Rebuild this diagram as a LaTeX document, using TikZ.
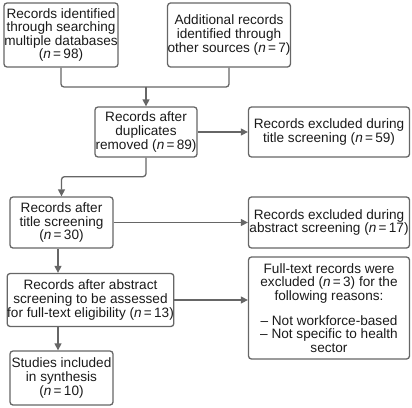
\documentclass[tikz,border=0pt]{standalone}
\usepackage{fontspec}
\setmainfont{Liberation Sans}
\usetikzlibrary{arrows.meta}
\definecolor{ln}{HTML}{666666}
\definecolor{tx}{HTML}{1A1A1A}
\newcommand{\nn}[1]{(\textit{n}\,=\,#1)}
\begin{document}
\begin{tikzpicture}[x=1pt,y=-1pt,
  box/.style={draw=ln, line width=1.3pt, rounded corners=3pt, align=center,
    inner sep=0pt, text=tx, font=\fontsize{13.6}{13.6}\selectfont},
  link/.style={draw=ln, line width=1.3pt, rounded corners=3pt},
  conn/.style={link, -{Triangle[length=7pt,width=7pt]}}]
\useasboundingbox (0,0) rectangle (412,407);
\node[box, minimum width=114pt, minimum height=64pt] (b1) at (61,35)
  {Records identified\\through searching\\multiple databases\\\nn{98}};
\node[box, minimum width=116pt, minimum height=64pt] (b2) at (229,35)
  {Additional records\\identified through\\other sources \nn{7}};
\node[box, minimum width=102pt, minimum height=50pt] (b3) at (146,132)
  {Records after\\duplicates\\removed \nn{89}};
\node[box, minimum width=161pt, minimum height=50pt] (b4) at (329,132)
  {Records excluded during\\title screening \nn{59}};
\node[box, minimum width=103pt, minimum height=51pt] (b5) at (61.5,222.5)
  {Records after\\title screening\\\nn{30}};
\node[box, minimum width=161pt, minimum height=51pt] (b6) at (329,222.5)
  {Records excluded during\\abstract screening \nn{17}};
\node[box, minimum width=161pt, minimum height=53pt] (b7) at (90.5,300)
  {Records after abstract\\screening to be assessed\\for full-text eligibility \nn{13}};
\node[box, minimum width=161pt, minimum height=102pt] (b8) at (329,308)
  {Full-text records were\\excluded \nn{3} for the\\following reasons:\\[11pt]
   -- Not workforce-based\\-- Not specific to health\\sector};
\node[box, minimum width=103pt, minimum height=54pt] (b9) at (61.5,378)
  {Studies included\\in synthesis\\\nn{10}};
\coordinate (j) at (146,87);
\coordinate (v) at (58,0);
\draw[link] (b1.south) |- (j);
\draw[link] (b2.south) |- (j);
\draw[conn] (j) -- (b3.north);
\draw[conn] (b3.east) -- (b4.west);
\draw[conn] (b3.south) -- ++(0,19) -| (b5.north);
\draw[conn] (b5.east) -- (b6.west);
\draw[conn] (b5.south -| v) -- (b7.north -| v);
\draw[conn] (b7.east) -- (b7.east -| b8.west);
\draw[conn] (b7.south -| v) -- (b9.north -| v);
\end{tikzpicture}
\end{document}
